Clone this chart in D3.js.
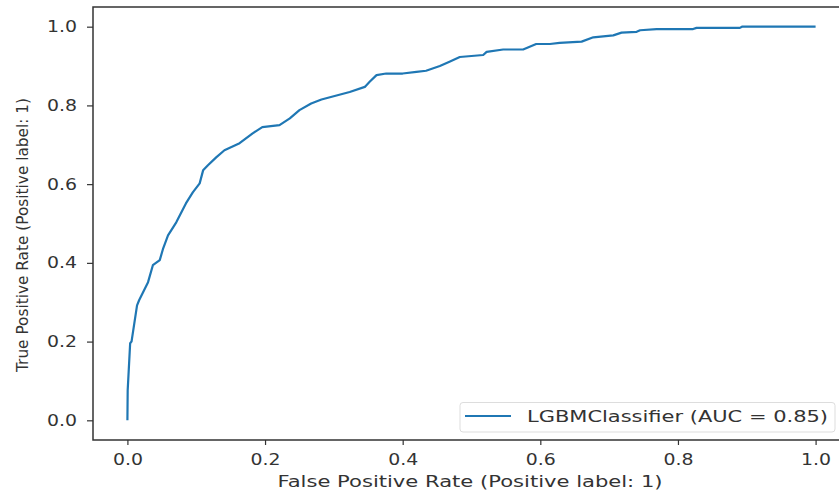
<!DOCTYPE html>
<html>
<head>
<meta charset="utf-8">
<script src="https://cdn.jsdelivr.net/npm/d3@7"></script>
<style>
  html, body { margin: 0; padding: 0; background: #fff; }
  svg { display: block; }
  text { font-family: "DejaVu Sans", sans-serif; fill: #333; }
</style>
</head>
<body>
<svg id="chart" width="839" height="493"></svg>
<script>
// ROC curve data
const fpr = [0, 0.0004, 0.004, 0.006, 0.014, 0.017, 0.030, 0.037, 0.047, 0.052, 0.059, 0.071, 0.085, 0.095, 0.105, 0.110, 0.117, 0.129, 0.141, 0.163, 0.182, 0.196, 0.221, 0.236, 0.250, 0.267, 0.282, 0.323, 0.345, 0.352, 0.362, 0.376, 0.400, 0.420, 0.434, 0.454, 0.468, 0.483, 0.517, 0.522, 0.546, 0.575, 0.594, 0.614, 0.628, 0.660, 0.677, 0.706, 0.718, 0.740, 0.745, 0.769, 0.822, 0.827, 0.890, 0.893, 1.0];
const tpr = [0, 0.076, 0.196, 0.200, 0.292, 0.305, 0.351, 0.394, 0.407, 0.437, 0.470, 0.503, 0.551, 0.579, 0.602, 0.635, 0.648, 0.668, 0.686, 0.704, 0.729, 0.745, 0.750, 0.767, 0.788, 0.805, 0.815, 0.834, 0.847, 0.860, 0.877, 0.881, 0.881, 0.885, 0.888, 0.900, 0.911, 0.923, 0.928, 0.936, 0.942, 0.942, 0.956, 0.956, 0.959, 0.962, 0.973, 0.978, 0.985, 0.987, 0.991, 0.994, 0.994, 0.997, 0.997, 1.0, 1.0];
const xTicks = [0.0, 0.2, 0.4, 0.6, 0.8, 1.0];
const yTicks = [0.0, 0.2, 0.4, 0.6, 0.8, 1.0];
const seriesName = "LGBMClassifier (AUC = 0.85)";
const xLabel = "False Positive Rate (Positive label: 1)";
const yLabel = "True Positive Rate (Positive label: 1)";

(function () {
const svg = d3.select("#chart");
const pL = 93, pR = 850, pT = 7, pB = 440;
const x = d3.scaleLinear().domain([-0.05, 1.05]).range([pL, pR]);
const y = d3.scaleLinear().domain([-0.05, 1.05]).range([pB, pT]);
const ink = "#333";

// x axis
const gx = svg.append("g").attr("transform", `translate(0,${pB})`)
  .call(d3.axisBottom(x).tickValues(xTicks).tickFormat(d3.format(".1f")).tickSize(5).tickPadding(8.5));
gx.select(".domain").remove();
gx.selectAll("line").attr("stroke", ink).attr("stroke-width", 1.2);
gx.selectAll("text").style("font-size", "16px").attr("fill", ink)
  .attr("textLength", 30).attr("lengthAdjust", "spacingAndGlyphs");

// y axis
const gy = svg.append("g").attr("transform", `translate(${pL},0)`)
  .call(d3.axisLeft(y).tickValues(yTicks).tickFormat(d3.format(".1f")).tickSize(6).tickPadding(10));
gy.select(".domain").remove();
gy.selectAll("line").attr("stroke", ink).attr("stroke-width", 1.2);
gy.selectAll("text").style("font-size", "16px").attr("fill", ink)
  .attr("textLength", 30).attr("lengthAdjust", "spacingAndGlyphs");

// spines (right spine lies outside the canvas)
svg.append("path")
  .attr("d", `M${pR},${pT}H${pL}V${pB}H${pR}`)
  .attr("fill", "none").attr("stroke", ink).attr("stroke-width", 1.5);

// curve
const line = d3.line().x((d, i) => x(fpr[i])).y((d, i) => y(tpr[i]));
svg.append("path").datum(fpr)
  .attr("d", line)
  .attr("fill", "none").attr("stroke", "#1f77b4").attr("stroke-width", 2.2)
  .attr("stroke-linejoin", "round");

// labels
svg.append("text").attr("x", 470).attr("y", 487).attr("text-anchor", "middle")
  .style("font-size", "16px").attr("fill", ink)
  .attr("textLength", 385).attr("lengthAdjust", "spacingAndGlyphs").text(xLabel);
svg.append("text").attr("transform", "translate(28,235) rotate(-90)").attr("text-anchor", "middle")
  .style("font-size", "15px").attr("fill", ink)
  .attr("textLength", 274).attr("lengthAdjust", "spacingAndGlyphs").text(yLabel);

// legend
const lg = svg.append("g");
lg.append("rect").attr("x", 460).attr("y", 402.5).attr("width", 375).attr("height", 29.5).attr("rx", 3)
  .attr("fill", "#fff").attr("fill-opacity", 0.8).attr("stroke", "#ddd").attr("stroke-width", 1);
lg.append("line").attr("x1", 465).attr("x2", 511).attr("y1", 416).attr("y2", 416)
  .attr("stroke", "#1f77b4").attr("stroke-width", 2.2);
lg.append("text").attr("x", 527).attr("y", 422).style("font-size", "16px").attr("fill", ink)
  .attr("textLength", 301).attr("lengthAdjust", "spacingAndGlyphs").text(seriesName);
})();
</script>
</body>
</html>
